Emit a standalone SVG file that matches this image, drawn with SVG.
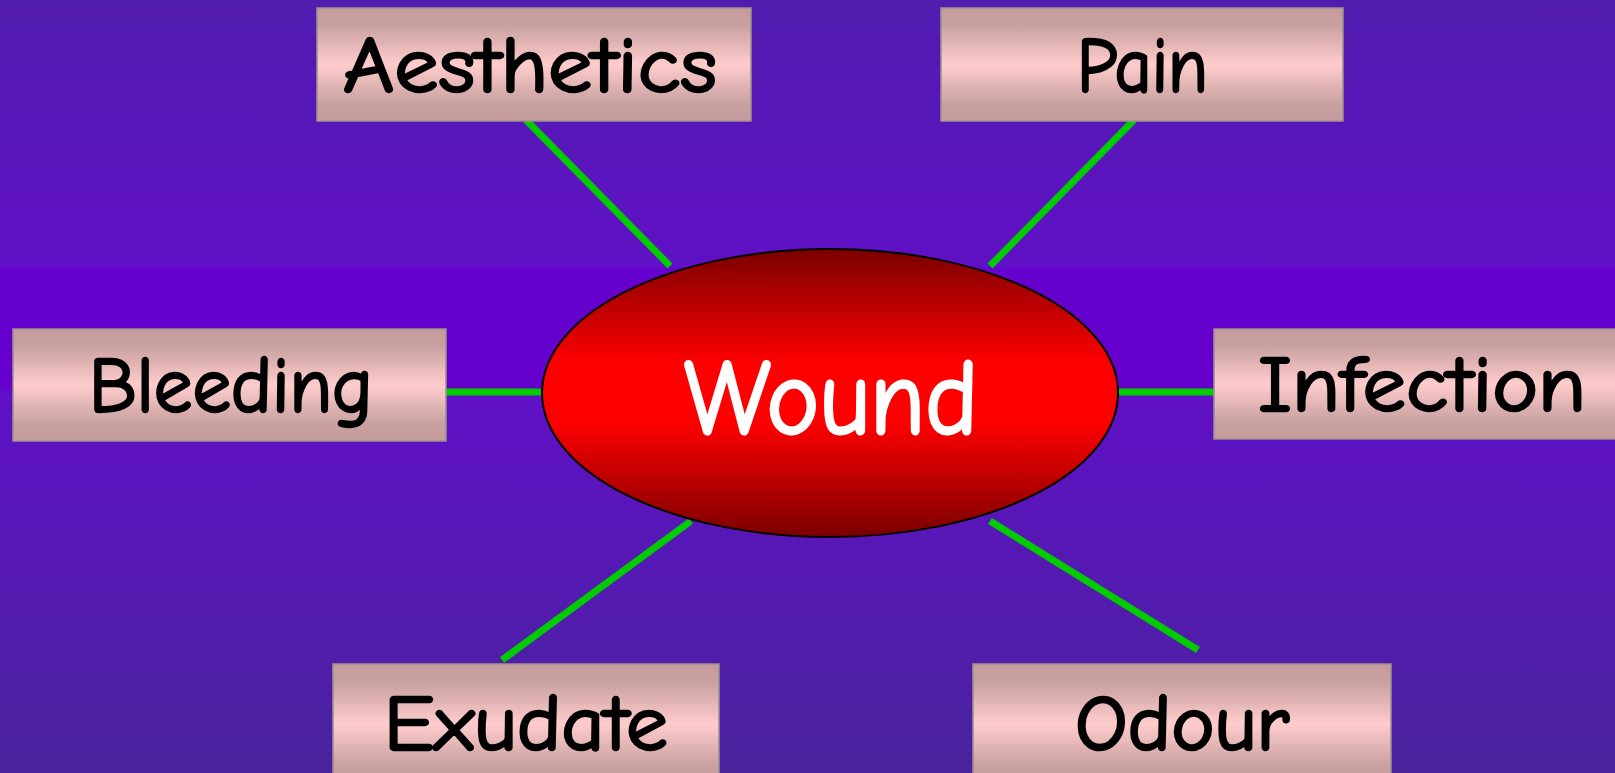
<svg xmlns="http://www.w3.org/2000/svg" width="1615" height="773" viewBox="0 0 1615 773">
<defs>
<linearGradient id="bg" x1="0" y1="0" x2="0" y2="1">
<stop offset="0" stop-color="#501cae"/>
<stop offset="0.345" stop-color="#6010c6"/>
<stop offset="0.348" stop-color="#6600cc"/>
<stop offset="0.5" stop-color="#6600cc"/>
<stop offset="0.51" stop-color="#6010c6"/>
<stop offset="1" stop-color="#48239c"/>
</linearGradient>
<linearGradient id="box" x1="0" y1="0" x2="0" y2="1">
<stop offset="0" stop-color="#c49c9c"/>
<stop offset="0.15" stop-color="#c8a0a0"/>
<stop offset="0.5" stop-color="#ffcccc"/>
<stop offset="0.85" stop-color="#c8a0a0"/>
<stop offset="1" stop-color="#c49c9c"/>
</linearGradient>
<linearGradient id="red" x1="0" y1="0" x2="0" y2="1">
<stop offset="0" stop-color="#7a0000"/>
<stop offset="0.4" stop-color="#ff0000"/>
<stop offset="0.6" stop-color="#ff0000"/>
<stop offset="1" stop-color="#7a0000"/>
</linearGradient>
<style>
.box{fill:url(#box);stroke:#a09090;stroke-width:1.5}
.lbl{font-family:"Comic Sans MS","Comic Neue","DejaVu Sans",sans-serif;font-size:78px;fill:#000;stroke:#000;stroke-width:2.5;stroke-linejoin:round}
.conn line{stroke:#00cc00;stroke-width:7}
</style>
</defs>
<rect x="0" y="0" width="1615" height="773" fill="url(#bg)"/>
<g id="connectors" class="conn">
<line x1="526" y1="120" x2="670" y2="266"/>
<line x1="1134" y1="120" x2="990" y2="266"/>
<line x1="446" y1="392" x2="542" y2="392"/>
<line x1="1118" y1="392" x2="1214" y2="392"/>
<line x1="691" y1="521" x2="502" y2="660"/>
<line x1="990" y1="521" x2="1198" y2="650"/>
</g>
<g id="wound">
<ellipse cx="830" cy="393" rx="288" ry="144" fill="url(#red)" stroke="#000" stroke-width="2"/>
<text x="684" y="433" class="lbl" style="font-size:106px;fill:#fff;stroke:#fff;stroke-width:3" textLength="294" lengthAdjust="spacingAndGlyphs">Wound</text>
</g>
<g id="aesthetics">
<rect class="box" x="317" y="8" width="434" height="113"/>
<text class="lbl" x="343" y="92" textLength="374" lengthAdjust="spacingAndGlyphs">Aesthetics</text>
</g>
<g id="pain">
<rect class="box" x="941" y="8" width="402" height="113"/>
<text class="lbl" x="1077" y="92" textLength="131" lengthAdjust="spacingAndGlyphs">Pain</text>
</g>
<g id="bleeding">
<rect class="box" x="13" y="329" width="433" height="112"/>
<text class="lbl" x="89" y="412" textLength="284" lengthAdjust="spacingAndGlyphs">Bleeding</text>
</g>
<g id="infection">
<rect class="box" x="1214" y="329" width="410" height="110"/>
<text class="lbl" x="1258" y="411" textLength="328" lengthAdjust="spacingAndGlyphs">Infection</text>
</g>
<g id="exudate">
<rect class="box" x="333" y="664" width="386" height="120"/>
<text class="lbl" x="384" y="750" textLength="284" lengthAdjust="spacingAndGlyphs">Exudate</text>
</g>
<g id="odour">
<rect class="box" x="973" y="664" width="418" height="120"/>
<text class="lbl" x="1075" y="750" textLength="214" lengthAdjust="spacingAndGlyphs">Odour</text>
</g>
</svg>
